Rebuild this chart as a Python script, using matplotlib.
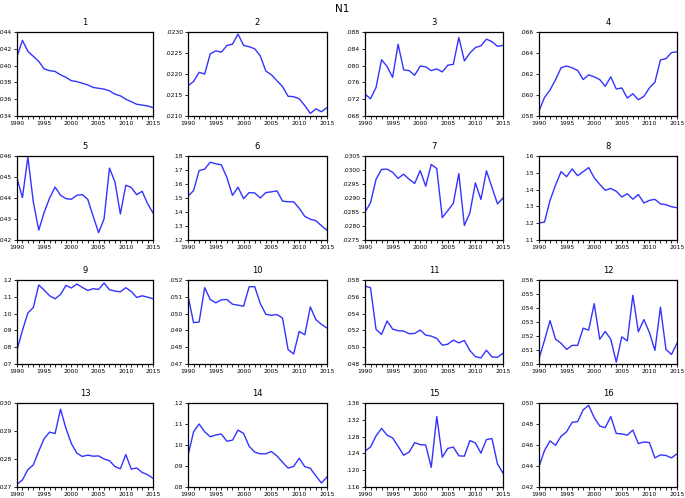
import matplotlib
matplotlib.use("Agg")
import matplotlib.pyplot as plt
from matplotlib.ticker import FuncFormatter, MultipleLocator
import numpy as np

#years on the x axis
years = np.arange(1990, 2016)

#series, one per panel
s1 = [.04109, .0430, .0417, .0411, .0405, .0396, .0394, .0393, .0389, .0386, .0382, .0381, .0379,
      .0377, .0374, .0373, .0372, .0370, .0366, .0364, .0360, .0357, .0354, .0353, .0352, .0350]
s2 = [.02172, .02182, .02204, .02200, .02248, .02255, .02252, .02268, .02271, .02295, .02268, .02265, .02260,
      .02243, .02207, .02198, .02184, .02170, .02147, .02146, .02141, .02125, .02106, .02117, .02110, .02120]
s3 = [.0732, .0721, .0748, .0814, .0798, .0772, .0851, .0790, .0788, .0777, .0799, .0797, .0788,
      .0792, .0785, .0801, .0803, .0867, .0811, .0830, .0843, .0847, .0863, .0857, .0846, .0848]
s4 = [.05848, .05977, .06047, .06147, .06259, .06276, .06259, .06234, .06147, .06192, .06173, .06147, .06083,
      .06173, .06057, .06067, .05971, .06012, .05955, .05987, .06067, .06122, .06334, .06346, .06404, .06411]
s5 = [.04494, .04402, .04595, .04381, .04247, .04332, .04400, .04452, .04413, .04397, .04394, .04413, .04416,
      .04394, .04313, .04235, .04300, .04542, .04477, .04324, .04461, .04450, .04416, .04432, .04373, .04329]
s6 = [.1512, .1553, .1696, .1706, .1756, .1744, .1737, .1645, .1519, .1577, .1495, .1539, .1536,
      .1500, .1539, .1544, .1551, .1478, .1473, .1473, .1427, .1369, .1348, .1338, .1302, .1270]
s7 = [.02849, .02883, .02967, .03002, .03003, .02992, .02970, .02985, .02967, .02952, .02998, .02942, .03020,
      .03005, .02830, .02855, .02881, .02987, .02802, .02847, .02954, .02895, .02997, .02938, .02879, .02900]
s8 = [.1201, .1207, .1336, .1427, .1507, .1477, .1523, .1483, .1507, .1531, .1471, .1431, .1396,
      .1407, .1390, .1356, .1375, .1343, .1371, .1320, .1336, .1342, .1315, .1310, .1298, .1292]
s9 = [.0784, .0900, .1004, .1036, .1170, .1140, .1106, .1088, .1114, .1168, .1152, .1176, .1156,
      .1138, .1148, .1144, .1182, .1142, .1134, .1130, .1154, .1132, .1096, .1106, .1098, .1088]
s10 = [.05106, .04946, .04950, .05154, .05084, .05064, .05082, .05084, .05056, .05050, .05044, .05160, .05160,
       .05060, .04996, .04990, .04994, .04974, .04786, .04760, .04894, .04874, .05040, .04964, .04936, .04914]
s11 = [.05728, .05708, .05212, .05152, .05312, .05216, .05196, .05192, .05160, .05164, .05204, .05144, .05132,
       .05104, .05024, .05036, .05084, .05052, .05080, .04960, .04888, .04872, .04964, .04884, .04880, .04928]
s12 = [.05039, .05169, .05310, .05177, .05148, .05104, .05133, .05133, .05256, .05242, .05431, .05177, .05232,
       .05177, .05013, .05194, .05165, .05491, .05230, .05317, .05225, .05097, .05406, .05104, .05068, .05148]
s13 = [.02710, .02725, .02762, .02779, .02828, .02873, .02896, .02891, .02978, .02909, .02855, .02821, .02809,
       .02814, .02810, .02811, .02800, .02794, .02773, .02765, .02816, .02764, .02768, .02752, .02744, .02731]
s14 = [.0950, .1063, .1100, .1063, .1039, .1048, .1052, .1018, .1023, .1071, .1055, .0994, .0966,
       .0958, .0958, .0969, .0948, .0918, .0890, .0898, .0937, .0897, .0889, .0853, .0819, .0848]
s15 = [.12455, .12552, .12818, .12995, .12834, .12769, .12568, .12358, .12431, .12656, .12608, .12600, .12068,
       .13277, .12310, .12519, .12552, .12342, .12334, .12705, .12648, .12406, .12729, .12753, .12148, .11931]
s16 = [.04394, .04548, .04639, .04597, .04684, .04726, .04816, .04823, .04935, .04977, .04861, .04781, .04765,
       .04871, .04710, .04706, .04694, .04742, .04613, .04629, .04623, .04477, .04506, .04500, .04477, .04516]

series = [s1, s2, s3, s4, s5, s6, s7, s8, s9, s10, s11, s12, s13, s14, s15, s16]

#y axis range, tick step and decimals for each panel
y_low = [.034, .0210, .068, .058, .042, .12, .0275, .11, .07, .047, .048, .050, .027, .08, .116, .042]
y_high = [.044, .0230, .088, .066, .046, .18, .0305, .16, .12, .052, .058, .056, .030, .12, .136, .050]
y_step = [.002, .0005, .004, .002, .001, .01, .0005, .01, .01, .001, .002, .001, .001, .01, .004, .002]
y_dec = [3, 4, 3, 3, 3, 2, 4, 2, 2, 3, 3, 3, 3, 2, 3, 3]

W, H = 685, 498
fig = plt.figure(figsize=(W / 100, H / 100), dpi=100)
fig.text(0.5, 1 - 9 / H, "N1", ha="center", va="center", fontsize=7.5)

#axes frame positions in pixels (left, width per column)
col_left = [17, 188, 365, 539]
col_w = [136, 139, 138, 138]
row_top = [32, 156, 280, 403]
ax_h = 84


def make_fmt(dec):
    def f(v, pos):
        s = f"{v:.{dec}f}"
        return s[1:] if s.startswith("0") else s
    return f


for i, vals in enumerate(series):
    r, c = divmod(i, 4)
    ax = fig.add_axes([col_left[c] / W, 1 - (row_top[r] + ax_h) / H, col_w[c] / W, ax_h / H])
    ax.plot(years, vals, color="#3333ff", lw=1.0)
    ax.set_xlim(1990, 2015)
    ax.set_ylim(y_low[i], y_high[i])
    ax.xaxis.set_major_locator(MultipleLocator(5))
    ax.xaxis.set_minor_locator(MultipleLocator(1))
    ax.yaxis.set_major_locator(MultipleLocator(y_step[i]))
    ax.yaxis.set_major_formatter(FuncFormatter(make_fmt(y_dec[i])))
    ax.tick_params(which="both", direction="out", labelsize=4.3, width=0.6, pad=1.2)
    ax.tick_params(which="major", length=2.5)
    ax.tick_params(which="minor", length=2)
    for sp in ax.spines.values():
        sp.set_linewidth(0.9)
    ax.set_title(str(i + 1), fontsize=6, pad=5)

plt.savefig("out.png", dpi=100)
